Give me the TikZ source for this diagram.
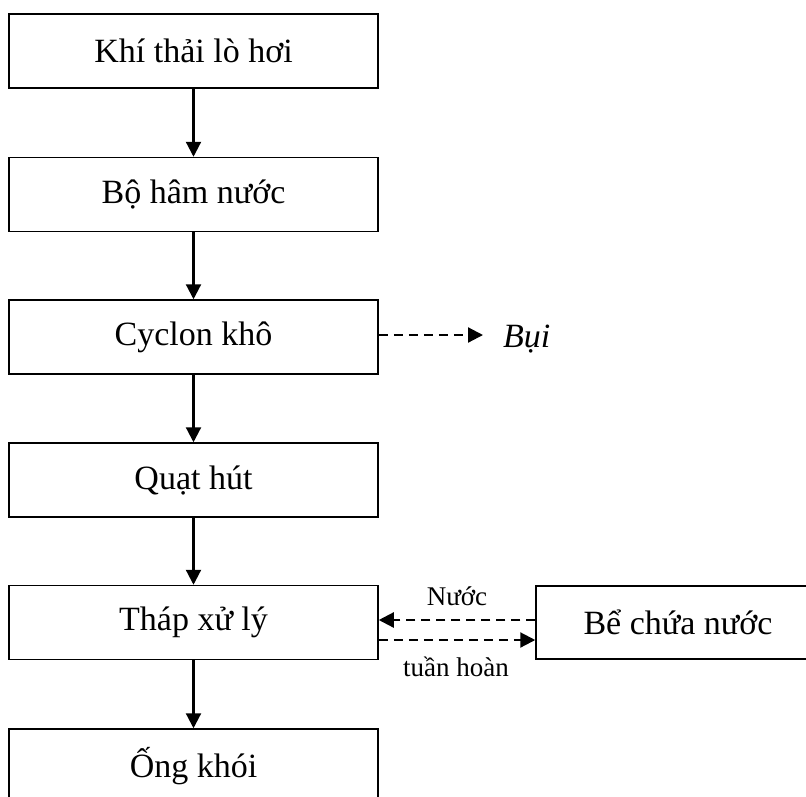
\documentclass[tikz,border=0pt]{standalone}
\usepackage{fontspec}
\setmainfont{Liberation Serif}
\usetikzlibrary{arrows.meta}
\begin{document}
\begin{tikzpicture}[x=1pt,y=-1pt,
  box/.style={draw, line width=1.5pt, minimum width=369pt, minimum height=74pt, inner sep=0pt, font=\fontsize{34}{40}\selectfont},
  flow/.style={line width=2.2pt, -{Triangle[length=15pt,width=15pt]}},
  dflow/.style={line width=2.2pt, dash pattern=on 9pt off 6pt, -{Triangle[length=15pt,width=15pt]}},
  lbl/.style={inner sep=0pt, anchor=base, font=\fontsize{27}{32}\selectfont}]
\clip (0,0) rectangle (806,796);
\fill[white] (0,0) rectangle (806,796);
\node[box] (a) at (193.5,51) {Khí thải lò hơi};
\node[box] (b) at (193.5,194.5) {Bộ hâm nước};
\node[box] (c) at (193.5,337) {Cyclon khô};
\node[box] (d) at (193.5,480) {Quạt hút};
\node[box] (e) at (193.5,622.5) {Tháp xử lý};
\node[box] (f) at (193.5,766) {Ống khói};
\node[box, minimum width=280pt, minimum height=73pt] (g) at (676,622.5) {\hspace*{4pt}Bể chứa nước};
\node[inner sep=0pt, anchor=base west, font=\fontsize{34}{40}\selectfont\itshape] (bui) at (503,347) {Bụi};
\coordinate (buitip) at (483,335);
\draw[flow] (a) -- (b);
\draw[flow] (b) -- (c);
\draw[flow] (c) -- (d);
\draw[flow] (d) -- (e);
\draw[flow] (e) -- (f);
\draw[dflow] ([yshift=2pt]c.east) -- (buitip);
\draw[dflow] ([yshift=2.5pt]g.west) -- ([yshift=2.5pt]g.west -| e.east);
\draw[dflow] ([yshift=-17.5pt]e.east) -- ([yshift=-17.5pt]e.east -| g.west);
\node[lbl] (n1) at (457,605) {Nước};
\node[lbl] (n2) at (456,676) {tuần hoàn};
\end{tikzpicture}
\end{document}
